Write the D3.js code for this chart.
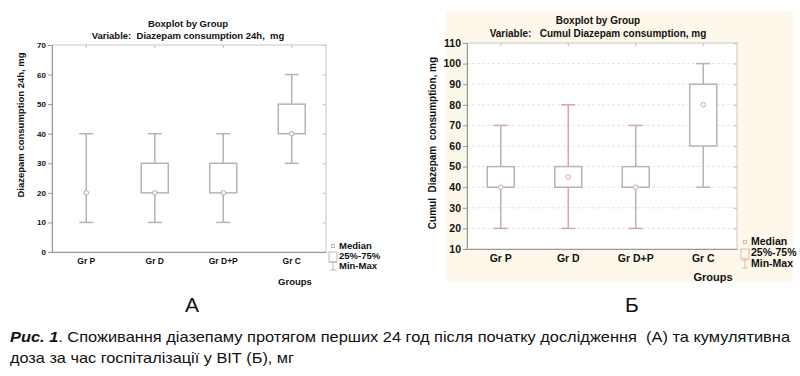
<!DOCTYPE html>
<html>
<head>
<meta charset="utf-8">
<script src="https://cdn.jsdelivr.net/npm/d3@7"></script>
<style>
  body { margin: 0; background: #fff; }
  svg { display: block; }
  text { font-family: "Liberation Sans", Arial, sans-serif; }
</style>
</head>
<body>
<script>
// groups on the x axis (both panels)
const groups = ["Gr P", "Gr D", "Gr D+P", "Gr C"];

// panel A: diazepam 24h, mg
const aMin = [10, 10, 10, 30];
const aQ1  = [20, 20, 20, 40];
const aMed = [20, 20, 20, 40];
const aQ3  = [20, 30, 30, 50];
const aMax = [40, 40, 40, 60];
const aTicks = [0, 10, 20, 30, 40, 50, 60, 70];

// panel B: cumulative diazepam, mg
const bMin = [20, 20, 20, 40];
const bQ1  = [40, 40, 40, 60];
const bMed = [40, 45, 40, 80];
const bQ3  = [50, 50, 50, 90];
const bMax = [70, 80, 70, 100];
const bTicks = [10, 20, 30, 40, 50, 60, 70, 80, 90, 100, 110];

const w = 800, h = 376;
const gray = "#b4b4b4";
const pink = "#dba5a5";

const svg = d3.select("body").append("svg")
  .attr("width", w)
  .attr("height", h);

function panel(o) {
  const g = svg.append("g");
  const x = d3.scaleBand().domain(groups).range([o.left, o.right]);
  const y = d3.scaleLinear().domain(d3.extent(o.ticks)).range([o.bottom, o.top]);
  const rows = groups.map((d, i) => ({
    g: d, min: o.min[i], q1: o.q1[i], med: o.med[i], q3: o.q3[i], max: o.max[i]
  }));

  if (o.bg) {
    g.append("rect").attr("x", o.bg[0]).attr("y", o.bg[1])
      .attr("width", o.bg[2]).attr("height", o.bg[3]).attr("fill", "#fdf8e9");
    g.append("rect").attr("x", o.left).attr("y", o.top)
      .attr("width", o.right - o.left).attr("height", o.bottom - o.top).attr("fill", "#fff");
  }

  // grid
  if (o.grid) {
    g.selectAll(".grid").data(o.ticks.slice(1, -1)).enter().append("line")
      .attr("x1", o.left).attr("x2", o.right)
      .attr("y1", d => y(d)).attr("y2", d => y(d))
      .attr("stroke", "#e4e4e4").attr("stroke-dasharray", "3,2");
  }

  // frame
  g.append("rect").attr("x", o.left).attr("y", o.top)
    .attr("width", o.right - o.left).attr("height", o.bottom - o.top)
    .attr("fill", "none").attr("stroke", "#c8c8c8");

  // y axis
  const yAxis = d3.axisLeft(y).tickValues(o.ticks).tickSize(4).tickPadding(2);
  const ya = g.append("g").attr("transform", "translate(" + o.left + ",0)").call(yAxis);
  ya.select(".domain").attr("stroke", "#999");
  ya.selectAll(".tick line").attr("stroke", "#999");
  ya.selectAll("text").attr("font-size", o.tickFont).attr("font-weight", "bold").attr("fill", "#111");

  // right side ticks
  g.append("g").attr("transform", "translate(" + o.right + ",0)")
    .call(d3.axisLeft(y).tickValues(o.ticks).tickSize(3).tickFormat(""))
    .call(s => s.select(".domain").remove())
    .selectAll("line").attr("stroke", "#bbb");

  // x axis
  const xAxis = d3.axisBottom(x).tickSize(0).tickPadding(o.xPad);
  const xa = g.append("g").attr("transform", "translate(0," + o.bottom + ")").call(xAxis);
  xa.select(".domain").attr("stroke", "#999");
  xa.selectAll("text").attr("font-size", o.xFont).attr("font-weight", "bold").attr("fill", "#111");

  // top ticks
  g.append("g").attr("transform", "translate(0," + o.top + ")")
    .call(d3.axisBottom(x).tickSize(3).tickFormat(""))
    .call(s => s.select(".domain").remove())
    .selectAll("line").attr("stroke", "#bbb");

  const cx = d => x(d.g) + x.bandwidth() / 2;
  const bw = 27, cw = 14;

  // whiskers
  const wcol = (d, i) => o.whiskerCol ? o.whiskerCol(i) : gray;
  const capcol = (d, i) => o.capCol ? o.capCol(i) : gray;
  g.selectAll(".wh").data(rows).enter().append("line")
    .attr("x1", cx).attr("x2", cx)
    .attr("y1", d => y(d.max)).attr("y2", d => y(d.min))
    .attr("stroke", wcol).attr("stroke-width", 1.5);
  ["max", "min"].forEach(k => {
    g.selectAll(".cap" + k).data(rows).enter().append("line")
      .attr("x1", d => cx(d) - cw / 2).attr("x2", d => cx(d) + cw / 2)
      .attr("y1", d => y(d[k])).attr("y2", d => y(d[k]))
      .attr("stroke", capcol).attr("stroke-width", 1.5);
  });

  // boxes
  g.selectAll(".box").data(rows).enter().append("rect")
    .attr("x", d => cx(d) - bw / 2).attr("width", bw)
    .attr("y", d => y(d.q3)).attr("height", d => Math.max(0, y(d.q1) - y(d.q3)))
    .attr("fill", "#fff").attr("stroke", gray).attr("stroke-width", 1.5);

  // median
  g.selectAll(".med").data(rows).enter().append("circle")
    .attr("cx", cx).attr("cy", d => y(d.med)).attr("r", 2.3)
    .attr("fill", "#fff").attr("stroke", o.medCol).attr("stroke-width", 1);

  // titles
  g.append("text").attr("x", o.titleX).attr("y", o.titleY).attr("text-anchor", "middle")
    .attr("font-size", o.titleFont).attr("font-weight", "bold").attr("fill", "#111")
    .text("Boxplot by Group");
  g.append("text").attr("x", o.titleX).attr("y", o.titleY + o.titleGap).attr("text-anchor", "middle")
    .attr("font-size", o.titleFont).attr("font-weight", "bold").attr("fill", "#111")
    .attr("xml:space", "preserve")
    .text(o.varTitle);

  g.append("text")
    .attr("transform", "translate(" + o.yTitleX + "," + o.yTitleY + ") rotate(-90)")
    .attr("text-anchor", "middle").attr("font-size", o.titleFont).attr("font-weight", "bold")
    .attr("fill", "#111").attr("xml:space", "preserve").text(o.yTitle);

  g.append("text").attr("x", o.groupsX).attr("y", o.groupsY).attr("text-anchor", "middle")
    .attr("font-size", o.groupsFont).attr("font-weight", "bold").attr("fill", "#111").text("Groups");

  // legend
  const lx = o.legX, ly = o.legY, lg = o.legGap;
  g.append("rect").attr("x", lx - 1.5).attr("y", ly - 3.5).attr("width", 3).attr("height", 3)
    .attr("fill", "none").attr("stroke", o.legCol).attr("stroke-width", 0.8);
  g.append("rect").attr("x", lx - 4).attr("y", ly + lg - 6).attr("width", 8).attr("height", 10)
    .attr("fill", "none").attr("stroke", o.legCol).attr("stroke-width", 0.8);
  g.append("path")
    .attr("d", "M" + (lx - 3) + "," + (ly + 2 * lg - 6) + "h6M" + lx + "," + (ly + 2 * lg - 6) +
      "v8M" + (lx - 3) + "," + (ly + 2 * lg + 2) + "h6")
    .attr("fill", "none").attr("stroke", o.legCol).attr("stroke-width", 0.8);
  ["Median", "25%-75%", "Min-Max"].forEach((t, i) => {
    g.append("text").attr("x", lx + 6).attr("y", ly + i * lg + 1)
      .attr("font-size", o.legFont).attr("font-weight", "bold").attr("fill", "#111").text(t);
  });

  g.append("text").attr("x", o.letterX).attr("y", 312).attr("text-anchor", "middle")
    .attr("font-size", 21).attr("fill", "#111").text(o.letter);
}

panel({
  left: 52, right: 326, top: 45, bottom: 252,
  ticks: aTicks, min: aMin, q1: aQ1, med: aMed, q3: aQ3, max: aMax,
  tickFont: 8, xFont: 8.5, xPad: 6,
  titleX: 188, titleY: 27, titleGap: 12, titleFont: 9.5,
  varTitle: "Variable:  Diazepam consumption 24h,  mg",
  yTitle: "Diazepam consumption 24h, mg", yTitleX: 24, yTitleY: 125,
  groupsX: 295, groupsY: 285, groupsFont: 9.5,
  medCol: "#a8a8a8", legCol: "#a8a8a8",
  legX: 333, legY: 248, legGap: 10, legFont: 9.5,
  letter: "A", letterX: 192
});

panel({
  left: 467, right: 737, top: 43, bottom: 249,
  ticks: bTicks, min: bMin, q1: bQ1, med: bMed, q3: bQ3, max: bMax,
  tickFont: 10.5, xFont: 10.5, xPad: 6,
  titleX: 598, titleY: 24, titleGap: 13, titleFont: 10,
  varTitle: "Variable:   Cumul Diazepam consumption, mg",
  yTitle: "Cumul  Diazepam  consumption, mg", yTitleX: 436, yTitleY: 143,
  groupsX: 713, groupsY: 281, groupsFont: 11,
  grid: true, bg: [446, 11, 347, 271],
  medCol: pink, legCol: pink,
  whiskerCol: i => i === 1 ? pink : gray,
  capCol: i => i === 3 ? gray : pink,
  legX: 745, legY: 244, legGap: 11, legFont: 10.5,
  letter: "Б", letterX: 632
});

// caption, condensed like the printed figure caption
const capFont = "'Liberation Sans', Arial, sans-serif";
const cap = svg.append("text").attr("x", 10).attr("y", 342)
  .attr("font-family", capFont)
  .attr("font-size", 14.5).attr("fill", "#111")
  .attr("textLength", 780).attr("lengthAdjust", "spacingAndGlyphs")
  .attr("xml:space", "preserve");
cap.append("tspan").attr("font-weight", "bold").attr("font-style", "italic").text("Рис. 1");
cap.append("tspan").text(". Споживання діазепаму протягом перших 24 год після початку дослідження  (А) та кумулятивна");
svg.append("text").attr("x", 10).attr("y", 363)
  .attr("font-family", capFont)
  .attr("font-size", 14.5).attr("fill", "#111")
  .attr("textLength", 284).attr("lengthAdjust", "spacingAndGlyphs")
  .text("доза за час госпіталізації у ВІТ (Б), мг");
</script>
</body>
</html>
